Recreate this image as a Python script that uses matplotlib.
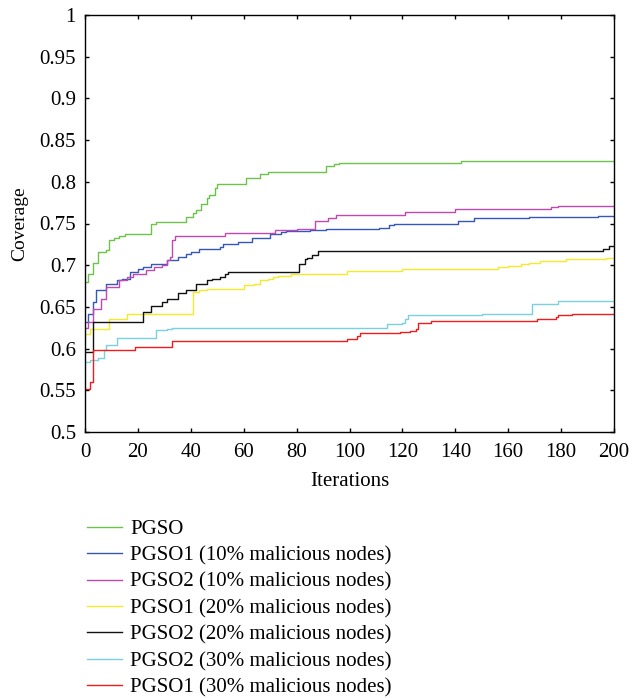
import matplotlib
matplotlib.use("Agg")
import matplotlib.pyplot as plt
import numpy as np

plt.rcParams['font.family'] = ['Liberation Serif', 'DejaVu Serif']

# Data: change points (iteration, coverage) for each series, drawn as steps
pgso_x = [0, 1, 3, 5, 8, 9, 11, 13, 15, 25, 27, 38, 41, 42, 44, 46, 47, 49, 50, 61, 66, 69, 91, 94, 96, 117, 142, 200]
pgso_y = [0.680, 0.690, 0.703, 0.716, 0.718, 0.730, 0.733, 0.735, 0.737, 0.749, 0.752, 0.758, 0.762, 0.766, 0.773,
          0.780, 0.784, 0.792, 0.797, 0.804, 0.809, 0.812, 0.819, 0.821, 0.822, 0.823, 0.825, 0.825]

p1_10_x = [0, 1, 3, 4, 8, 12, 14, 17, 20, 22, 25, 31, 35, 38, 40, 43, 51, 52, 58, 63, 70, 74, 76, 85, 91, 111, 115,
           117, 141, 147, 168, 194, 200]
p1_10_y = [0.632, 0.642, 0.656, 0.670, 0.678, 0.682, 0.684, 0.692, 0.696, 0.698, 0.702, 0.706, 0.710, 0.713, 0.716,
           0.720, 0.722, 0.726, 0.728, 0.733, 0.738, 0.740, 0.741, 0.742, 0.743, 0.745, 0.748, 0.749, 0.753, 0.756,
           0.758, 0.759, 0.759]

p2_10_x = [0, 1, 3, 6, 8, 13, 16, 18, 23, 26, 29, 31, 32, 33, 34, 53, 72, 80, 87, 92, 95, 121, 140, 176, 179, 200]
p2_10_y = [0.625, 0.632, 0.648, 0.660, 0.674, 0.682, 0.686, 0.690, 0.694, 0.698, 0.700, 0.706, 0.710, 0.730, 0.735,
           0.739, 0.742, 0.743, 0.753, 0.756, 0.760, 0.764, 0.767, 0.770, 0.771, 0.771]

p1_20_x = [0, 2, 9, 16, 41, 43, 46, 60, 64, 66, 69, 71, 73, 78, 99, 120, 156, 160, 165, 168, 172, 182, 197, 200]
p1_20_y = [0.618, 0.623, 0.636, 0.642, 0.668, 0.670, 0.672, 0.676, 0.678, 0.682, 0.684, 0.686, 0.687, 0.690, 0.693,
           0.695, 0.698, 0.699, 0.701, 0.703, 0.705, 0.707, 0.709, 0.709]

p2_20_x = [0, 3, 22, 25, 29, 31, 35, 38, 42, 46, 48, 51, 53, 54, 81, 83, 84, 86, 88, 196, 198, 200]
p2_20_y = [0.596, 0.632, 0.644, 0.651, 0.656, 0.660, 0.667, 0.670, 0.678, 0.682, 0.684, 0.686, 0.690, 0.692, 0.702,
           0.707, 0.709, 0.712, 0.717, 0.720, 0.723, 0.723]

p2_30_x = [0, 2, 5, 7, 8, 12, 27, 31, 33, 114, 120, 121, 122, 150, 159, 169, 179, 200]
p2_30_y = [0.584, 0.586, 0.589, 0.598, 0.604, 0.613, 0.622, 0.623, 0.625, 0.629, 0.631, 0.636, 0.640, 0.641, 0.642,
           0.654, 0.657, 0.657]

p1_30_x = [0, 2, 3, 19, 33, 99, 101, 103, 104, 119, 123, 125, 126, 131, 171, 174, 178, 179, 184, 200]
p1_30_y = [0.552, 0.560, 0.598, 0.602, 0.609, 0.611, 0.612, 0.615, 0.619, 0.620, 0.621, 0.624, 0.631, 0.633, 0.635,
           0.636, 0.638, 0.640, 0.641, 0.641]

labels = ["PGSO", "PGSO1 (10% malicious nodes)", "PGSO2 (10% malicious nodes)", "PGSO1 (20% malicious nodes)",
          "PGSO2 (20% malicious nodes)", "PGSO2 (30% malicious nodes)", "PGSO1 (30% malicious nodes)"]
colors = ["#6cc24a", "#3457b8", "#c048b0", "#f2ea2a", "#111111", "#78d0e0", "#f01c1c"]
series = [(pgso_x, pgso_y), (p1_10_x, p1_10_y), (p2_10_x, p2_10_y), (p1_20_x, p1_20_y),
          (p2_20_x, p2_20_y), (p2_30_x, p2_30_y), (p1_30_x, p1_30_y)]

x_ticks = list(range(0, 201, 20))
y_ticks = [0.5, 0.55, 0.6, 0.65, 0.7, 0.75, 0.8, 0.85, 0.9, 0.95, 1.0]

fig = plt.figure(figsize=(6.32, 6.98), dpi=100)
ax = fig.add_axes([85 / 632, 1 - 432 / 698, (614 - 85) / 632, (432 - 15) / 698])

handles = []
for (xs, ys), c, lab in zip(series, colors, labels):
    h, = ax.plot(xs, ys, drawstyle='steps-post', color=c, lw=1.0, label=lab)
    handles.append(h)

ax.set_xlim(0, 200)
ax.set_ylim(0.5, 1.0)
ax.set_xticks(x_ticks)
ax.set_yticks(y_ticks)
ax.set_yticklabels(["%g" % v for v in y_ticks])
ax.tick_params(direction='in', top=True, right=True, labelsize=15, length=3, width=1)
ax.tick_params(axis='x', pad=8)
ax.tick_params(axis='y', pad=6.5)
for s in ax.spines.values():
    s.set_linewidth(1.0)
ax.set_xlabel("Iterations", fontsize=15, labelpad=7)
ax.set_ylabel("Coverage", fontsize=14, labelpad=8)

fig.legend(handles=handles, labels=labels, loc='upper left', bbox_to_anchor=(79 / 632, 1 - 511 / 698),
           frameon=False, fontsize=15, handlelength=1.65, handletextpad=0.42, labelspacing=0.33, borderaxespad=0)

fig.savefig("out.png", dpi=100)
